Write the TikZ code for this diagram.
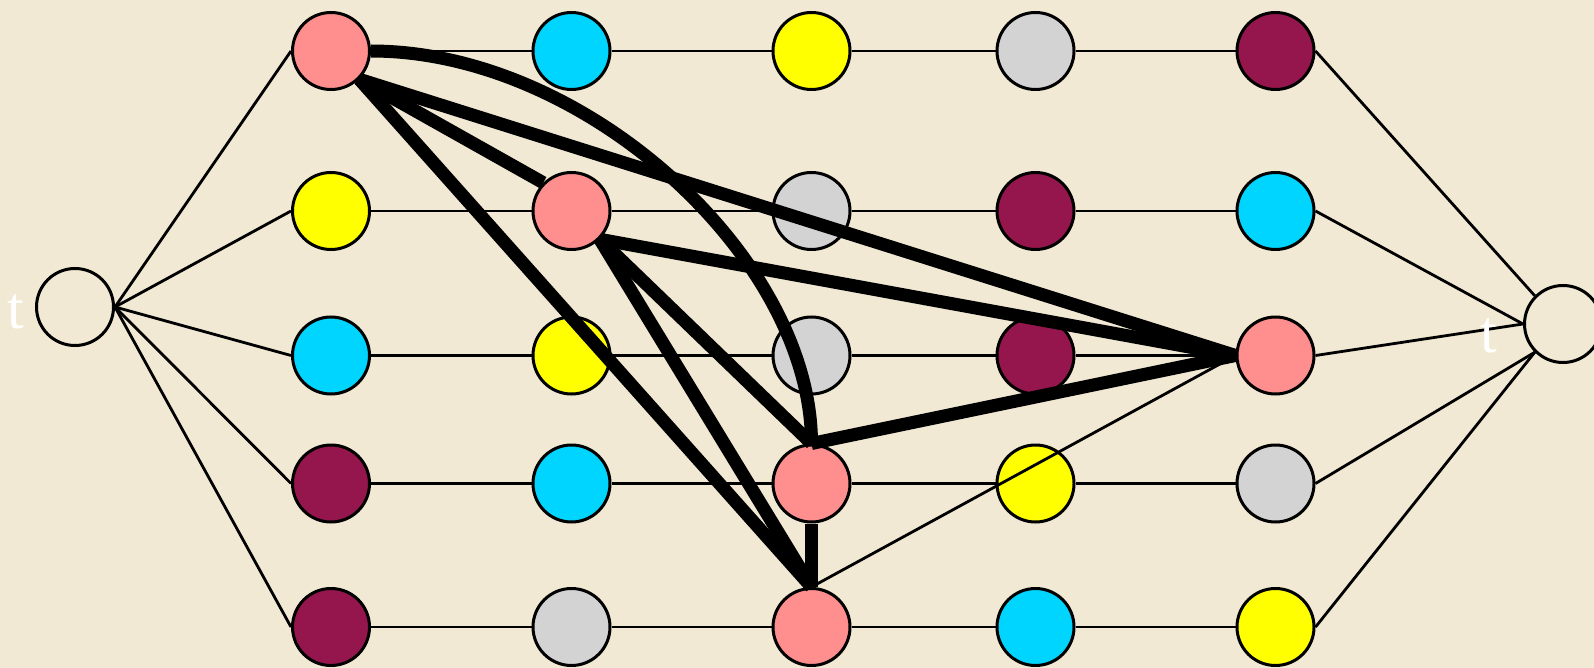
\documentclass[tikz,border=0pt]{standalone}
\usepackage{fontspec}
\setmainfont{Liberation Serif}
\definecolor{bgc}{RGB}{241,233,211}
\definecolor{pk}{RGB}{255,143,143}
\definecolor{cy}{RGB}{0,213,255}
\definecolor{ye}{RGB}{255,255,0}
\definecolor{gr}{RGB}{211,211,211}
\definecolor{mr}{RGB}{149,22,76}
\pgfdeclarelayer{back}
\pgfsetlayers{back,main}
\begin{document}
\begin{tikzpicture}[x=1pt,y=-1pt,
  vtx/.style={circle,draw=black,line width=3pt,minimum size=77pt,inner sep=0pt},
  thinedge/.style={line width=2.8pt},
  heavy/.style={line width=13pt,line cap=butt},
  tlabel/.style={text=white,font=\fontsize{60}{60}\selectfont,inner sep=0pt,anchor=base}]
\useasboundingbox (0,0) rectangle (1594,668);
% end nodes
\node[vtx] (L) at (75,307) {};
\node[vtx] (R) at (1563,324) {};
\node[tlabel] (tL) at (16,328) {t};
\node[tlabel] (tR) at (1489,352) {t};
% grid nodes
\node[vtx,fill=pk] (a00) at (331,51) {};
\node[vtx,fill=cy] (a01) at (571.5,51) {};
\node[vtx,fill=ye] (a02) at (811.5,51) {};
\node[vtx,fill=gr] (a03) at (1035.5,51) {};
\node[vtx,fill=mr] (a04) at (1275.5,51) {};
\node[vtx,fill=ye] (a10) at (331,211) {};
\node[vtx,fill=pk] (a11) at (571.5,211) {};
\node[vtx,fill=gr] (a12) at (811.5,211) {};
\node[vtx,fill=mr] (a13) at (1035.5,211) {};
\node[vtx,fill=cy] (a14) at (1275.5,211) {};
\node[vtx,fill=cy] (a20) at (331,355.5) {};
\node[vtx,fill=ye] (a21) at (571.5,355.5) {};
\node[vtx,fill=gr] (a22) at (811.5,355.5) {};
\node[vtx,fill=mr] (a23) at (1035.5,355.5) {};
\node[vtx,fill=pk] (a24) at (1275.5,355.5) {};
\node[vtx,fill=mr] (a30) at (331,483.5) {};
\node[vtx,fill=cy] (a31) at (571.5,483.5) {};
\node[vtx,fill=pk] (a32) at (811.5,483.5) {};
\node[vtx,fill=ye] (a33) at (1035.5,483.5) {};
\node[vtx,fill=gr] (a34) at (1275.5,483.5) {};
\node[vtx,fill=mr] (a40) at (331,627) {};
\node[vtx,fill=gr] (a41) at (571.5,627) {};
\node[vtx,fill=pk] (a42) at (811.5,627) {};
\node[vtx,fill=cy] (a43) at (1035.5,627) {};
\node[vtx,fill=ye] (a44) at (1275.5,627) {};
\begin{pgfonlayer}{back}
\fill[bgc] (0,0) rectangle (1594,668);
\foreach \r in {0,...,4}{
  \draw[thinedge] (L.east) -- (a\r0.west);
  \draw[thinedge] (a\r0) -- (a\r1) -- (a\r2) -- (a\r3) -- (a\r4);
}
\draw[thinedge] (a04.east) -- (R.north west);
\draw[thinedge] (a14.east) -- (R.west);
\draw[thinedge] (a24.east) -- (R.west);
\draw[thinedge] (a34.east) -- (R.south west);
\draw[thinedge] (a44.east) -- (R.south west);
\end{pgfonlayer}
% thin diagonal on top
\draw[thinedge] (a42.north) -- (a24.west);
% heavy edges
\draw[heavy] (a00.east) .. controls +(215,0) and +(0,-185) .. (a32.north);
\draw[heavy] (a00.south east) -- (a11.north west);
\draw[heavy] (a00.south east) -- (a24.west);
\draw[heavy] (a00.south east) -- (a42.north);
\draw[heavy] (a11.south east) -- (a24.west);
\draw[heavy] (a11.south east) -- (a32.north);
\draw[heavy] (a11.south east) -- (a42.north);
\draw[heavy] (a32.north) -- (a24.west);
\draw[heavy] (a32.south) -- (a42.north);
\end{tikzpicture}
\end{document}
